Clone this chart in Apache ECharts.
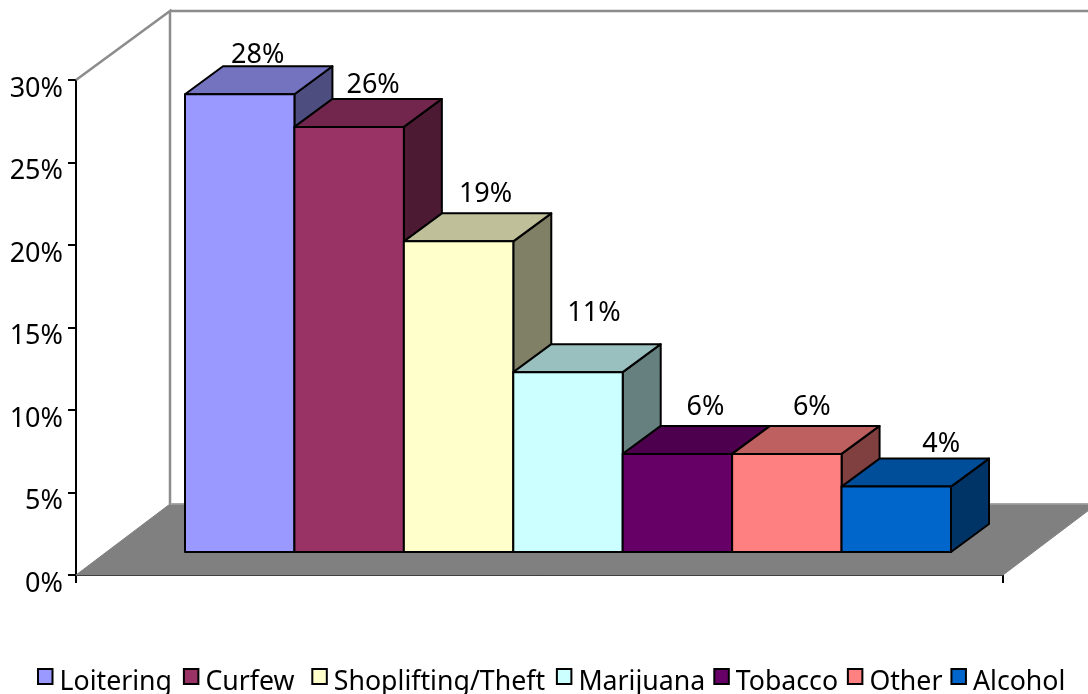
<!DOCTYPE html>
<html>
<head>
<meta charset="utf-8">
<style>html,body{margin:0;padding:0;background:#fff}#c{width:1088px;height:694px}</style>
<script src="https://cdn.jsdelivr.net/npm/echarts@6/dist/echarts.min.js"></script>
</head>
<body>
<div id="c"></div>
<script>
const categories = ['Loitering','Curfew','Shoplifting/Theft','Marijuana','Tobacco','Other','Alcohol'];
const values = [28,26,19,11,6,6,4];
const colors = ['#9999FF','#993366','#FFFFCC','#CCFFFF','#660066','#FF8080','#0066CC'];
const yTicks = {min:0,max:30,interval:5};
// label nudges relative to the centre of each bar's rear top edge
const labelNudgeX = [-1,5,8,7,9,6,26];
const labelNudgeY = [-11,-14,-19,-31,-19,-19,-14];
// font size of the blank spacer after each legend entry
const legendSpacerSize = [38,61,38,27,30,27,27];

const FONT = '"Noto Sans"';
const FS = 27;
const LEGEND_FS = 26.7;
const barDepth = [38,-28];
const wallDepth = [94,-71];
const wallTopRise = -69;

function shade(hex,f){
  const n=parseInt(hex.slice(1),16);
  const c=[(n>>16)&255,(n>>8)&255,n&255].map(v=>Math.round(v*f));
  return 'rgb('+c.join(',')+')';
}

function renderBar(idx){
  return function(params,api){
    const cat=api.value(0), val=api.value(1);
    const w=api.size([1,0])[0];
    const top=api.coord([cat,val]), base=api.coord([cat,0]);
    const x0=top[0]-w/2,x1=top[0]+w/2,yt=top[1],yb=base[1];
    const dx=barDepth[0],dy=barDepth[1];
    const stroke={stroke:'#000',lineWidth:2,lineJoin:'round'};
    const poly=(pts,fill)=>({type:'polygon',shape:{points:pts},style:Object.assign({fill:fill},stroke)});
    const col=colors[idx];
    return {type:'group',children:[
      poly([[x1,yb],[x1+dx,yb+dy],[x1+dx,yt+dy],[x1,yt]],shade(col,0.5)),
      poly([[x0,yt],[x0+dx,yt+dy],[x1+dx,yt+dy],[x1,yt]],shade(col,0.75)),
      poly([[x0,yb],[x1,yb],[x1,yt],[x0,yt]],col),
      {type:'text',z2:50,style:{
        x:top[0]+dx/2+labelNudgeX[idx],
        y:yt+dy+labelNudgeY[idx],
        text:values[idx]+'%',fill:'#000',font:FS+'px '+FONT,
        align:'center',verticalAlign:'middle'}}
    ]};
  };
}

function renderWalls(params){
  const g=params.coordSys;
  const L=g.x,R=g.x+g.width,T=g.y,B=g.y+g.height;
  const dx=wallDepth[0],dy=wallDepth[1];
  const line={stroke:'#8c8c8c',lineWidth:2.5,fill:'none'};
  return {type:'group',children:[
    {type:'polygon',shape:{points:[[L,B],[L+dx,B+dy],[R+dx,B+dy],[R,B]]},style:{fill:'#808080',stroke:'#808080',lineWidth:1}},
    {type:'polyline',shape:{points:[[L,T],[L+dx,T+wallTopRise],[L+dx,B+dy]]},style:line},
    {type:'line',shape:{x1:L+dx,y1:T+wallTopRise,x2:R+dx,y2:T+wallTopRise},style:line},
    {type:'line',shape:{x1:L+dx,y1:B+dy,x2:R+dx,y2:B+dy},style:{stroke:'#a0a0a0',lineWidth:1.5}}
  ]};
}

const series=[{
  type:'custom',name:'walls',xAxisIndex:0,yAxisIndex:0,silent:true,z:1,
  renderItem:renderWalls,data:[[0,0]],encode:{x:0,y:1}
}];
categories.forEach((c,i)=>{
  series.push({
    type:'custom',name:c,xAxisIndex:1,yAxisIndex:1,z:5+i,
    itemStyle:{color:colors[i]},
    renderItem:renderBar(i),
    data:[[i,values[i]]],encode:{x:0,y:1}
  });
});

const legendRich={a:{fontFamily:FONT,fontSize:LEGEND_FS,color:'#000',padding:[12,0,0,2]}};
legendSpacerSize.forEach((f,i)=>{
  legendRich['s'+i]={fontFamily:FONT,fontSize:f,lineHeight:1};
});

const chart=echarts.init(document.getElementById('c'),null,{renderer:'canvas'});
chart.setOption({
  animation:false,
  backgroundColor:'#fff',
  textStyle:{fontFamily:FONT},
  legend:{
    data:categories.map(n=>({name:n,icon:'rect'})),
    left:37,top:646,width:1300,itemWidth:14.5,itemHeight:15,itemGap:1,
    padding:0,selectedMode:false,
    itemStyle:{borderColor:'#000',borderWidth:2},
    formatter:name=>'{a|'+name+'}{s'+categories.indexOf(name)+'| }',
    textStyle:{fontFamily:FONT,fontSize:LEGEND_FS,color:'#000',rich:legendRich}
  },
  grid:[
    {left:76,right:85,top:80,bottom:119,containLabel:false},
    {left:185,right:137,top:61.5,bottom:142,containLabel:false}
  ],
  xAxis:[
    {type:'category',gridIndex:0,data:[''],position:'bottom',
      axisLine:{onZero:false,lineStyle:{color:'#000',width:2}},
      axisTick:{show:true,length:8,lineStyle:{color:'#000',width:2}},
      axisLabel:{show:false},splitLine:{show:false}},
    {type:'category',gridIndex:1,data:categories.map((c,i)=>i),show:false}
  ],
  yAxis:[
    {type:'value',gridIndex:0,min:yTicks.min,max:yTicks.max,interval:yTicks.interval,
      axisLine:{show:true,lineStyle:{color:'#000',width:2}},
      axisTick:{show:true,length:8,lineStyle:{color:'#000',width:2}},
      axisLabel:{formatter:'{value}%',fontFamily:FONT,fontSize:FS,color:'#000',margin:13,verticalAlign:'top',lineHeight:18},
      splitLine:{show:false}},
    {type:'value',gridIndex:1,min:yTicks.min,max:yTicks.max,interval:yTicks.interval,show:false}
  ],
  series:series
});
</script>
</body>
</html>
